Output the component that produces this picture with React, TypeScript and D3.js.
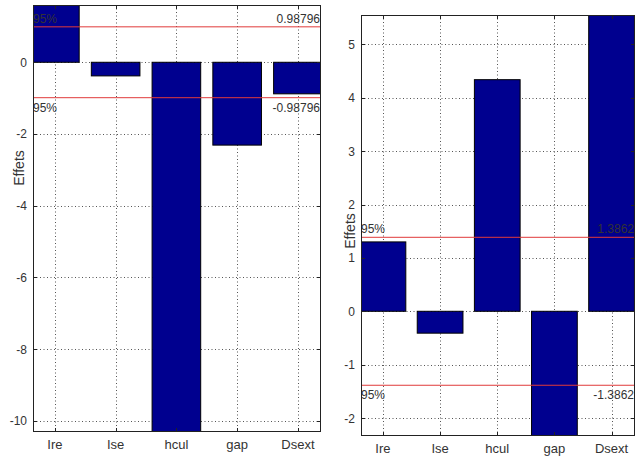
import React from "react";
import * as d3 from "d3";

// Factor names on the x axis
const factors = ["Ire", "Ise", "hcul", "gap", "Dsext"];

// Estimated effects, first design (values beyond the axis limits are clipped)
const effectsLeft = [1.9, -0.38, -10.6, -2.31, -0.88];
// Estimated effects, second design
const effectsRight = [1.3, -0.41, 4.34, -2.6, 5.9];

// 95% significance thresholds
const thresholdLeft = 0.98796;
const thresholdRight = 1.3862;

// Axis limits and tick values
const yLimLeft: [number, number] = [-10.31, 1.597];
const yLimRight: [number, number] = [-2.337, 5.552];
const yTicksLeft = [-10, -8, -6, -4, -2, 0];
const yTicksRight = [-2, -1, 0, 1, 2, 3, 4, 5];
const xLimLeft: [number, number] = [0.64, 5.38];
const xLimRight: [number, number] = [0.616, 5.41];

const FONT = "'Liberation Sans', Arial, Helvetica, sans-serif";
const BAR = "#00008f";
const RED = "#e03a3a";
const TXT = "#333";

type PanelProps = {
  id: string;
  x0: number;
  x1: number;
  y0: number;
  y1: number;
  xLim: [number, number];
  yLim: [number, number];
  yTicks: number[];
  values: number[];
  threshold: number;
  thresholdLabel: string;
  yLabelPos: [number, number];
};

function Panel(p: PanelProps) {
  const x = d3.scaleLinear().domain(p.xLim).range([p.x0, p.x1]);
  const y = d3.scaleLinear().domain(p.yLim).range([p.y1, p.y0]);
  // bars take 80% of the spacing between categories
  const barW = x(1.8) - x(1.0);
  const tickLen = 4;
  const xs = factors.map((_, i) => i + 1);
  const yUp = y(p.threshold);
  const yDn = y(-p.threshold);
  const fmt = (v: number) => String(v);
  return (
    <g>
      <defs>
        <clipPath id={`clip-${p.id}`}>
          <rect x={p.x0} y={p.y0} width={p.x1 - p.x0} height={p.y1 - p.y0} />
        </clipPath>
      </defs>
      <rect x={p.x0} y={p.y0} width={p.x1 - p.x0} height={p.y1 - p.y0} fill="#fff" />
      {/* dotted grid */}
      <g stroke="#555" strokeWidth={1} strokeDasharray="1 2.5">
        {xs.map((v) => (
          <line key={`gx${v}`} x1={Math.round(x(v)) + 0.5} x2={Math.round(x(v)) + 0.5} y1={p.y0} y2={p.y1} />
        ))}
        {p.yTicks.map((v) => (
          <line key={`gy${v}`} x1={p.x0} x2={p.x1} y1={Math.round(y(v)) + 0.5} y2={Math.round(y(v)) + 0.5} />
        ))}
      </g>
      {/* bars */}
      <g clipPath={`url(#clip-${p.id})`}>
        {p.values.map((v, i) => {
          const cx = x(i + 1);
          const top = y(Math.max(0, v));
          const bot = y(Math.min(0, v));
          return (
            <rect
              key={factors[i]}
              x={cx - barW / 2}
              y={top}
              width={barW}
              height={bot - top}
              fill={BAR}
              stroke="#000"
              strokeWidth={1}
            />
          );
        })}
        {/* significance limits */}
        <line x1={p.x0} x2={p.x1} y1={yUp} y2={yUp} stroke={RED} strokeWidth={1} />
        <line x1={p.x0} x2={p.x1} y1={yDn} y2={yDn} stroke={RED} strokeWidth={1} />
      </g>
      <g fontFamily={FONT} fontSize={12} fill={TXT}>
        <text x={p.x0} y={yUp - 4}>95%</text>
        <text x={p.x1 - 1} y={yUp - 4} textAnchor="end">{p.thresholdLabel}</text>
        <text x={p.x0} y={yDn + 14}>95%</text>
        <text x={p.x1 - 1} y={yDn + 14} textAnchor="end">-{p.thresholdLabel}</text>
      </g>
      {/* ticks */}
      <g stroke="#222" strokeWidth={1}>
        {xs.map((v) => (
          <g key={`tx${v}`}>
            <line x1={Math.round(x(v)) + 0.5} x2={Math.round(x(v)) + 0.5} y1={p.y1} y2={p.y1 - tickLen} />
            <line x1={Math.round(x(v)) + 0.5} x2={Math.round(x(v)) + 0.5} y1={p.y0} y2={p.y0 + tickLen} />
          </g>
        ))}
        {p.yTicks.map((v) => (
          <g key={`ty${v}`}>
            <line x1={p.x0} x2={p.x0 + tickLen} y1={Math.round(y(v)) + 0.5} y2={Math.round(y(v)) + 0.5} />
            <line x1={p.x1} x2={p.x1 - tickLen} y1={Math.round(y(v)) + 0.5} y2={Math.round(y(v)) + 0.5} />
          </g>
        ))}
      </g>
      {/* axes box */}
      <rect
        x={p.x0 + 0.5}
        y={p.y0 + 0.5}
        width={p.x1 - p.x0 - 1}
        height={p.y1 - p.y0 - 1}
        fill="none"
        stroke="#222"
        strokeWidth={1}
      />
      {/* tick labels */}
      <g fontFamily={FONT} fill={TXT}>
        {p.yTicks.map((v) => (
          <text key={`ly${v}`} x={p.x0 - 6} y={y(v) + 4.5} textAnchor="end" fontSize={12}>
            {fmt(v)}
          </text>
        ))}
        {factors.map((f, i) => (
          <text key={`lx${f}`} x={x(i + 1)} y={p.y1 + 17} textAnchor="middle" fontSize={13}>
            {f}
          </text>
        ))}
        <text
          transform={`translate(${p.yLabelPos[0]},${p.yLabelPos[1]}) rotate(-90)`}
          textAnchor="middle"
          fontSize={14}
        >
          Effets
        </text>
      </g>
    </g>
  );
}

export default function App() {
  return (
    <svg
      width={637}
      height={458}
      style={{ position: "absolute", left: 0, top: 0, background: "#fff" }}
    >
      <rect width={637} height={458} fill="#fff" />
      <Panel
        id="left"
        x0={33}
        x1={321}
        y0={5}
        y1={432}
        xLim={xLimLeft}
        yLim={yLimLeft}
        yTicks={yTicksLeft}
        values={effectsLeft}
        threshold={thresholdLeft}
        thresholdLabel="0.98796"
        yLabelPos={[24, 168]}
      />
      <Panel
        id="right"
        x0={361}
        x1={635}
        y0={15}
        y1={436}
        xLim={xLimRight}
        yLim={yLimRight}
        yTicks={yTicksRight}
        values={effectsRight}
        threshold={thresholdRight}
        thresholdLabel="1.3862"
        yLabelPos={[355, 231]}
      />
    </svg>
  );
}
